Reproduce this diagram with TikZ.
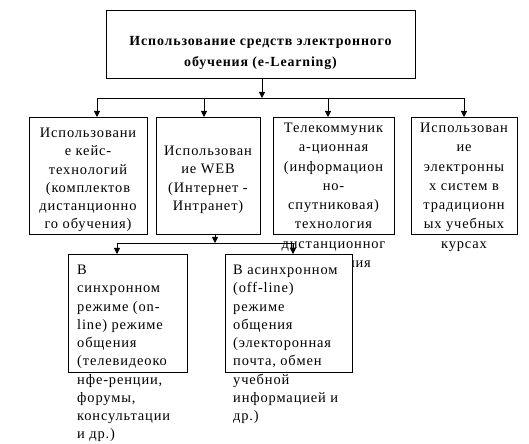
\documentclass[tikz,border=0pt]{standalone}
\usepackage{fontspec}
\setmainfont{Liberation Serif}
\newfontfamily\spaced[LetterSpace=6]{Liberation Serif}
\usetikzlibrary{arrows.meta}
\begin{document}
\begin{tikzpicture}[x=1bp,y=-1bp,
  box/.style={draw, line width=0.8bp, inner sep=0, fill=white, anchor=north west},
  txt/.style={inner sep=0, font=\spaced\fontsize{14.5}{18.3}\selectfont, align=center, anchor=north},
  wtxt/.style={inner sep=0, font=\spaced\fontsize{14.5}{19.3}\selectfont, align=center, anchor=north},
  ltxt/.style={inner sep=0, font=\spaced\fontsize{14.5}{18.3}\selectfont, align=left, anchor=north west},
  ttl/.style={inner sep=0, font=\spaced\bfseries\fontsize{14}{21.5}\selectfont, align=center, anchor=north},
  arr/.style={-{Triangle[width=6bp,length=6bp]}, line width=0.8bp},
  ln/.style={line width=0.8bp}]
\useasboundingbox (0,0) rectangle (529,444);

% top box
\node[box, minimum width=309bp, minimum height=68bp] (top) at (106,10) {};
\node[ttl] (toptxt) at (260.5,36) {Использование средств электронного\\обучения (e-Learning)};

% second row boxes
\node[box, minimum width=118bp, minimum height=117bp] (b1) at (29,117) {};
\node[box, minimum width=104bp, minimum height=117bp] (b2) at (156,117) {};
\node[box, minimum width=121bp, minimum height=117bp] (b3) at (273,117) {};
\node[box, minimum width=106bp, minimum height=117bp] (b4) at (411,117) {};

\node[txt] (t1) at (88,128) {Использовани\\е кейс-\\технологий\\(комплектов\\дистанционно\\го обучения)};
\node[txt] (t2) at (208,146) {Использован\\ие WEB\\(Интернет -\\Интранет)};
\node[wtxt] (t3) at (333.5,123) {Телекоммуник\\а-ционная\\(информацион\\но-\\спутниковая)\\технология\\дистанционног\\о обучения};
\node[wtxt] (t4) at (464,123) {Использован\\ие\\электронны\\х систем в\\традиционн\\ых учебных\\курсах};

% third row boxes
\node[box, minimum width=119bp, minimum height=118bp] (bl) at (68,254) {};
\node[box, minimum width=127bp, minimum height=118bp] (br) at (225,254) {};
\node[ltxt] (tl) at (77,265) {В\\синхронном\\режиме (on-\\line) режиме\\общения\\(телевидеоко\\нфе-ренции,\\форумы,\\консультации\\и др.)};
\node[ltxt] (tr) at (233,265) {В асинхронном\\(off-line)\\режиме\\общения\\(электоронная\\почта, обмен\\учебной\\информацией и\\др.)};

% connectors top -> row 2
\coordinate (j0) at (262,98);
\coordinate (h1) at (97,98);
\coordinate (h2) at (204,98);
\coordinate (h3) at (328,98);
\coordinate (h4) at (464,98);
\draw[arr] (top.south -| j0) -- (j0);
\draw[ln] (h1) -- (h4);
\draw[arr] (h1) -- (h1 |- b1.north);
\draw[arr] (h2) -- (h2 |- b2.north);
\draw[arr] (h3) -- (h3 |- b3.north);
\draw[arr] (h4) -- (h4 |- b4.north);

% connectors b2 -> row 3
\coordinate (k0) at (215,243);
\coordinate (k1) at (117,243);
\coordinate (k2) at (293,243);
\draw[arr] (b2.south -| k0) -- (k0);
\draw[ln] (k1) -- (k2);
\draw[arr] (k1) -- (k1 |- bl.north);
\draw[arr] (k2) -- (k2 |- br.north);
\end{tikzpicture}
\end{document}
